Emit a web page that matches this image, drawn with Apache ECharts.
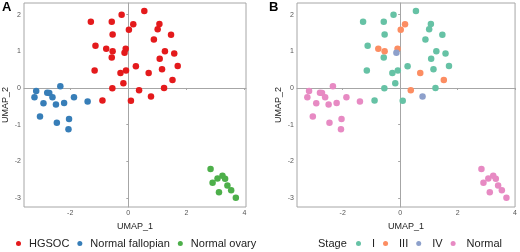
<!DOCTYPE html>
<html>
<head>
<meta charset="utf-8">
<script src="https://cdn.jsdelivr.net/npm/echarts@6/dist/echarts.min.js"></script>
<style>
  html, body { margin: 0; padding: 0; background: #fff; }
  #umapChart { width: 520px; height: 252px; }
</style>
</head>
<body>
<div id="umapChart"></div>
<script>
// HGSOC samples: UMAP_1 / UMAP_2 and stage
let hgsocX = [-1.29, -0.57, -0.23, 0.55, 0.17, 1.07, 0.02, 1.01, -0.54, 1.47, 0.88, -1.13,
  -0.76, -0.09, -0.54, -0.13, 1.26, 1.58, -0.57, 1.08, -1.16, 0.26, 1.70, -0.08, -0.27,
  0.70, 1.16, 1.52, -0.17, -0.55, 0.37, 1.23, 0.78, -0.89, 0.09];
let hgsocY = [1.81, 1.81, 2.00, 2.10, 1.74, 1.75, 1.59, 1.60, 1.46, 1.45, 1.32, 1.15,
  1.07, 1.07, 1.00, 0.96, 1.00, 0.94, 0.83, 0.80, 0.48, 0.59, 0.60, 0.48, 0.41,
  0.41, 0.51, 0.22, 0.13, -0.01, -0.06, 0.00, -0.23, -0.34, -0.35];
let hgsocStage = ["I", "I", "I", "I", "III", "I", "III", "I", "I", "I", "I", "I",
  "III", "III", "III", "IV", "I", "I", "I", "I", "I", "I", "I", "I", "I",
  "III", "I", "III", "I", "I", "III", "I", "IV", "I", "I"];
// normal fallopian tube
let fallopianX = [-3.17, -3.23, -2.79, -2.72, -2.61, -2.34, -2.92, -2.49, -2.21, -1.87, -1.40, -3.04, -2.04, -2.46, -2.06];
let fallopianY = [-0.08, -0.25, -0.13, -0.14, -0.25, 0.05, -0.42, -0.45, -0.41, -0.25, -0.37, -0.78, -0.85, -0.95, -1.13];
// normal ovary
let ovaryX = [2.83, 2.90, 3.07, 3.24, 3.33, 3.41, 3.12, 3.54, 3.70];
let ovaryY = [-2.21, -2.59, -2.47, -2.40, -2.48, -2.66, -2.85, -2.79, -3.00];

let xTicks = [-2, 0, 2, 4];
let yTicks = [-3, -2, -1, 0, 1, 2];
let groupNames = ["HGSOC", "Normal fallopian", "Normal ovary"];
let groupColors = ["#E41A1C", "#377EB8", "#4DAF4A"];
let stageNames = ["I", "III", "IV", "Normal"];
let stageColors = ["#66C2A5", "#FC8D62", "#8DA0CB", "#E78AC3"];

function zipPoints(xs, ys) {
  let arr = [];
  for (var i = 0; i < xs.length; i++) {
    arr.push([xs[i], ys[i]]);
  }
  return arr;
}

let hgsocPts = zipPoints(hgsocX, hgsocY);
let fallopianPts = zipPoints(fallopianX, fallopianY);
let ovaryPts = zipPoints(ovaryX, ovaryY);

let font = "Liberation Sans, Arial, sans-serif";
let lineColor = "#a6a6a6";

function makeXAxis(idx, max) {
  return {
    type: "value",
    gridIndex: idx,
    min: -3.59,
    max: max,
    name: "UMAP_1",
    nameLocation: "middle",
    nameGap: 11,
    nameTextStyle: { fontSize: 9, color: "#222", fontFamily: font },
    axisLine: { show: true, lineStyle: { color: lineColor } },
    axisTick: { show: true, length: 2, customValues: xTicks, lineStyle: { color: lineColor } },
    axisLabel: { customValues: xTicks, fontSize: 7, color: "#555", margin: 3, fontFamily: font },
    splitLine: { show: false }
  };
}

function makeYAxis(idx) {
  return {
    type: "value",
    gridIndex: idx,
    min: -3.25,
    max: 2.32,
    name: "UMAP_2",
    nameLocation: "middle",
    nameGap: 14,
    nameTextStyle: { fontSize: 9, color: "#222", fontFamily: font },
    axisLine: { show: true, lineStyle: { color: lineColor } },
    axisTick: { show: true, length: 2, customValues: yTicks, lineStyle: { color: lineColor } },
    axisLabel: { customValues: yTicks, fontSize: 7, color: "#555", margin: 3, fontFamily: font },
    splitLine: { show: false }
  };
}

let series = [];
// panel A: tissue groups
let groupPts = [hgsocPts, fallopianPts, ovaryPts];
for (var g = 0; g < groupNames.length; g++) {
  series.push({
    name: groupNames[g],
    type: "scatter",
    xAxisIndex: 0,
    yAxisIndex: 0,
    symbolSize: 6.5,
    itemStyle: { color: groupColors[g], opacity: 1 },
    data: groupPts[g]
  });
}
// panel B: stage (normal samples together)
for (var s = 0; s < stageNames.length; s++) {
  let pts = [];
  if (stageNames[s] === "Normal") {
    pts = fallopianPts.concat(ovaryPts);
  } else {
    for (var i = 0; i < hgsocPts.length; i++) {
      if (hgsocStage[i] === stageNames[s]) pts.push(hgsocPts[i]);
    }
  }
  series.push({
    name: stageNames[s],
    type: "scatter",
    xAxisIndex: 1,
    yAxisIndex: 1,
    symbolSize: 6.5,
    itemStyle: { color: stageColors[s], opacity: 1 },
    data: pts
  });
}

let myChart = echarts.init(document.getElementById("umapChart"));
let option = {
  animation: false,
  textStyle: { fontFamily: font },
  grid: [
    { left: 24, top: 3, width: 222, height: 204, show: true, borderColor: lineColor, borderWidth: 1 },
    { left: 297, top: 3, width: 221, height: 204, show: true, borderColor: lineColor, borderWidth: 1 }
  ],
  xAxis: [makeXAxis(0, 4.05), makeXAxis(1, 4.0)],
  yAxis: [makeYAxis(0), makeYAxis(1)],
  legend: [
    {
      left: 16,
      top: 238,
      padding: 0,
      icon: "circle",
      itemWidth: 5,
      itemHeight: 5,
      itemGap: 8,
      selectedMode: false,
      data: groupNames,
      textStyle: { fontSize: 11, color: "#222", fontFamily: font, padding: [0, 0, 0, 3] }
    },
    {
      left: 356,
      top: 238,
      padding: 0,
      icon: "circle",
      itemWidth: 5,
      itemHeight: 5,
      itemGap: 8,
      selectedMode: false,
      data: stageNames,
      textStyle: { fontSize: 11, color: "#222", fontFamily: font, padding: [0, 0, 0, 6] }
    }
  ],
  graphic: [
    { type: "text", left: 2, top: 1, style: { text: "A", font: "bold 13px " + font, fill: "#000" } },
    { type: "text", left: 269, top: 1, style: { text: "B", font: "bold 13px " + font, fill: "#000" } },
    { type: "text", left: 318, top: 238, style: { text: "Stage", font: "11px " + font, fill: "#222" } }
  ],
  series: series
};
myChart.setOption(option);
window.addEventListener("resize", () => {
  myChart.resize();
});
</script>
</body>
</html>
